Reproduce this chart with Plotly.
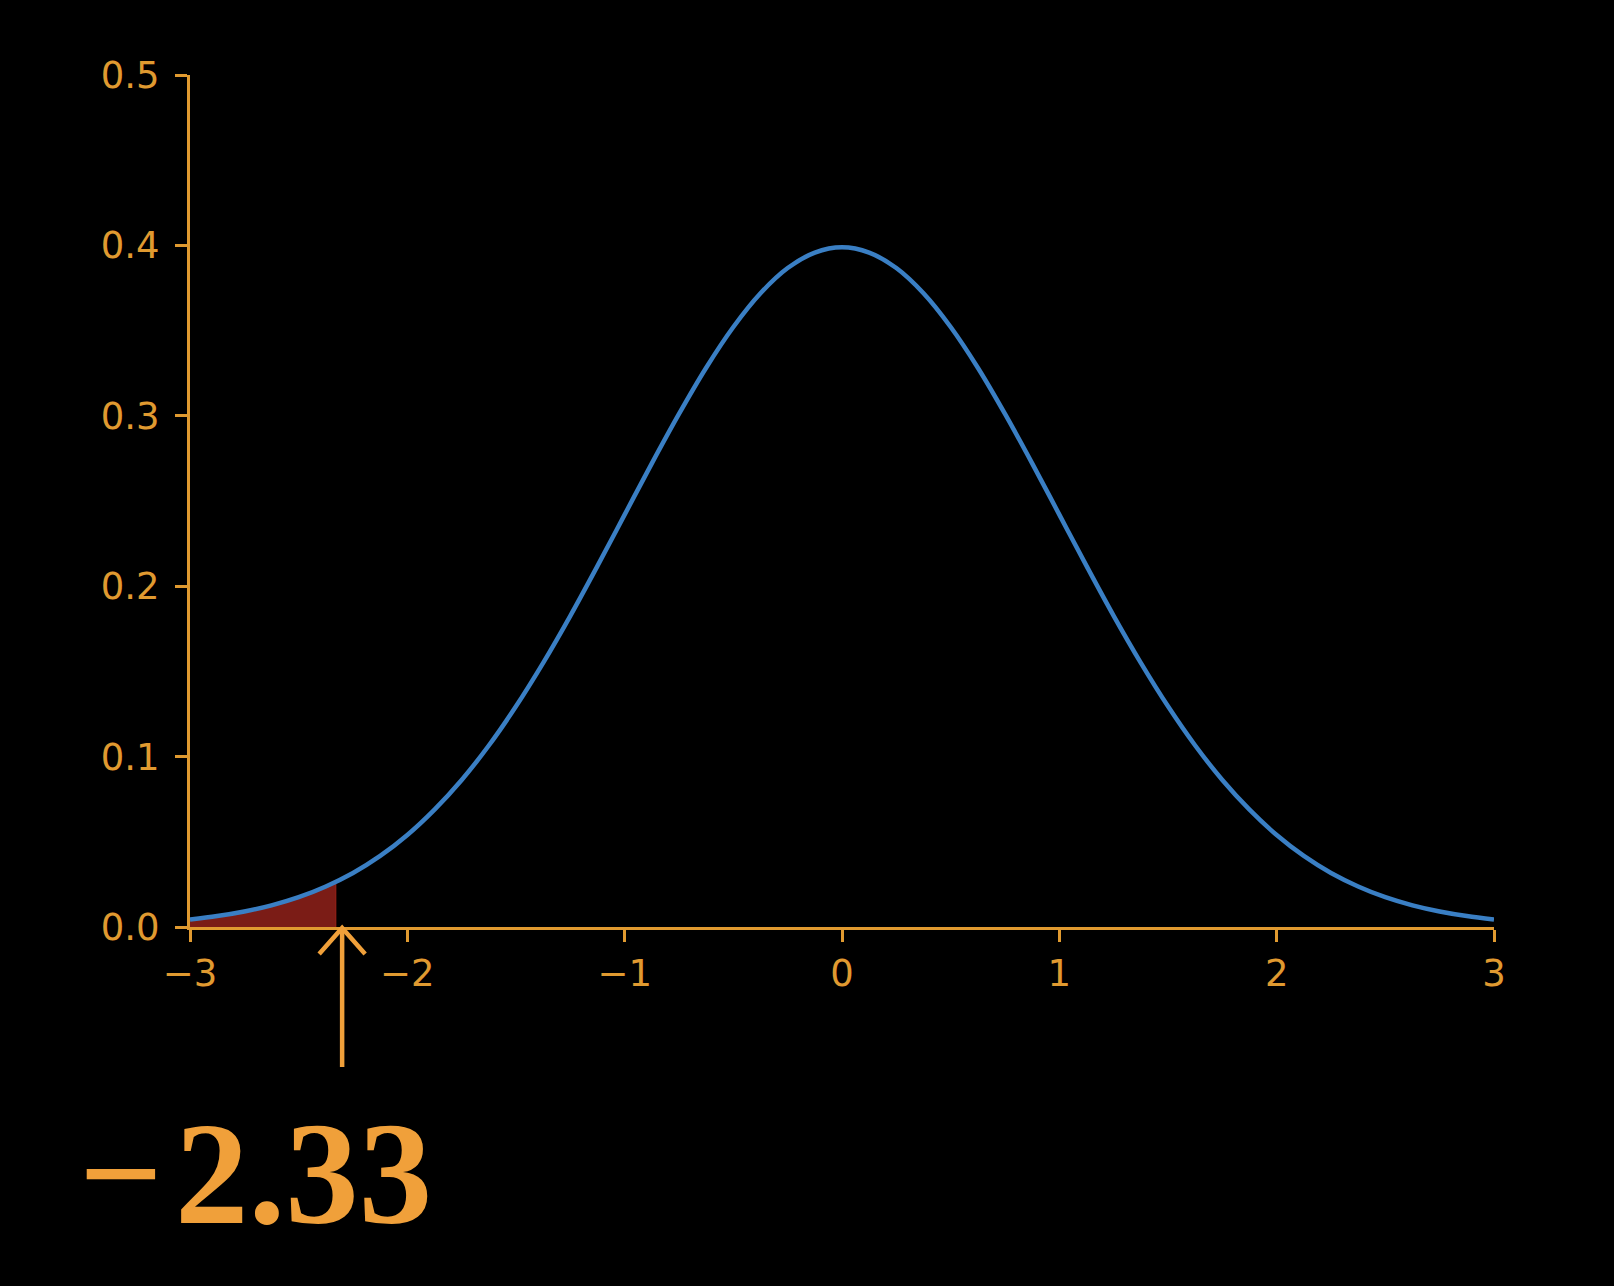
import plotly.graph_objects as go

# Standard normal density (x step 0.125)
x_vals = [-3.0, -2.875, -2.75, -2.625, -2.5, -2.375, -2.25, -2.125, -2.0, -1.875, -1.75,
          -1.625, -1.5, -1.375, -1.25, -1.125, -1.0, -0.875, -0.75, -0.625, -0.5, -0.375,
          -0.25, -0.125, 0.0, 0.125, 0.25, 0.375, 0.5, 0.625, 0.75, 0.875, 1.0, 1.125,
          1.25, 1.375, 1.5, 1.625, 1.75, 1.875, 2.0, 2.125, 2.25, 2.375, 2.5, 2.625, 2.75,
          2.875, 3.0]
y_vals = [0.0044, 0.0064, 0.0091, 0.0127, 0.0175, 0.0238, 0.0317, 0.0417, 0.0540, 0.0689,
          0.0863, 0.1065, 0.1295, 0.1550, 0.1826, 0.2119, 0.2420, 0.2721, 0.3011, 0.3282,
          0.3521, 0.3719, 0.3867, 0.3958, 0.3989, 0.3958, 0.3867, 0.3719, 0.3521, 0.3282,
          0.3011, 0.2721, 0.2420, 0.2119, 0.1826, 0.1550, 0.1295, 0.1065, 0.0863, 0.0689,
          0.0540, 0.0417, 0.0317, 0.0238, 0.0175, 0.0127, 0.0091, 0.0064, 0.0044]

# Shaded lower tail up to the critical value
tail_x = [-3.0, -2.875, -2.75, -2.625, -2.5, -2.375, -2.33]
tail_y = [0.0044, 0.0064, 0.0091, 0.0127, 0.0175, 0.0238, 0.0264]

critical_label = "−\u200a" + "2.33"
arrow_x = -2.30

x_range = [-3, 3]
y_range = [0, 0.5]
x_ticks = [-3, -2, -1, 0, 1, 2, 3]
y_ticks = [0.0, 0.1, 0.2, 0.3, 0.4, 0.5]
y_tick_text = ["0.0", "0.1", "0.2", "0.3", "0.4", "0.5"]

AXIS = "#e09a30"
TEXT = "#f0a03a"
CURVE = "#3a7fc4"
FILL = "#7b1c16"

fig = go.Figure()
fig.add_trace(go.Scatter(x=tail_x + [tail_x[-1]], y=tail_y + [0], mode="lines",
                         line=dict(color="#8a1e16", width=1.5),
                         fill="tozeroy", fillcolor=FILL, hoverinfo="skip"))
fig.add_trace(go.Scatter(x=x_vals, y=y_vals, mode="lines",
                         line=dict(color=CURVE, width=4.5, shape="spline")))

# arrow anchored at the critical point on the x axis (paper fraction)
ax_frac = (arrow_x - x_range[0]) / (x_range[1] - x_range[0])
fig.add_shape(type="line", xref="paper", yref="paper", xsizemode="pixel", ysizemode="pixel",
              xanchor=ax_frac, yanchor=0, x0=0, x1=0, y0=-1, y1=-140,
              line=dict(color=TEXT, width=4.5))
fig.add_shape(type="path", xref="paper", yref="paper", xsizemode="pixel", ysizemode="pixel",
              xanchor=ax_frac, yanchor=0, path="M -23,-27 L 0,-1 L 23,-27",
              line=dict(color=TEXT, width=4.5))

fig.add_annotation(xref="paper", yref="paper", x=-0.087, y=-0.289, xanchor="left",
                   yanchor="middle", text="<b>" + critical_label + "</b>", showarrow=False,
                   font=dict(family="Liberation Serif", size=147, color=TEXT))

axis_common = dict(showline=True, linecolor=AXIS, linewidth=3, ticks="outside",
                   ticklen=12, tickwidth=3, tickcolor=AXIS, showgrid=False, zeroline=False,
                   tickfont=dict(family="DejaVu Sans", size=37, color=AXIS))
fig.update_xaxes(range=x_range, tickvals=x_ticks, **axis_common)
fig.update_yaxes(range=y_range, tickvals=y_ticks, ticktext=y_tick_text,
                 ticklabelstandoff=8, **axis_common)

fig.update_layout(width=1614, height=1286, showlegend=False,
                  paper_bgcolor="black", plot_bgcolor="black",
                  margin=dict(l=190, r=120, t=75, b=359))
fig.write_html("out.html", config={"displayModeBar": False},
               post_script="document.body.style.margin='0';document.body.style.background='black';")
